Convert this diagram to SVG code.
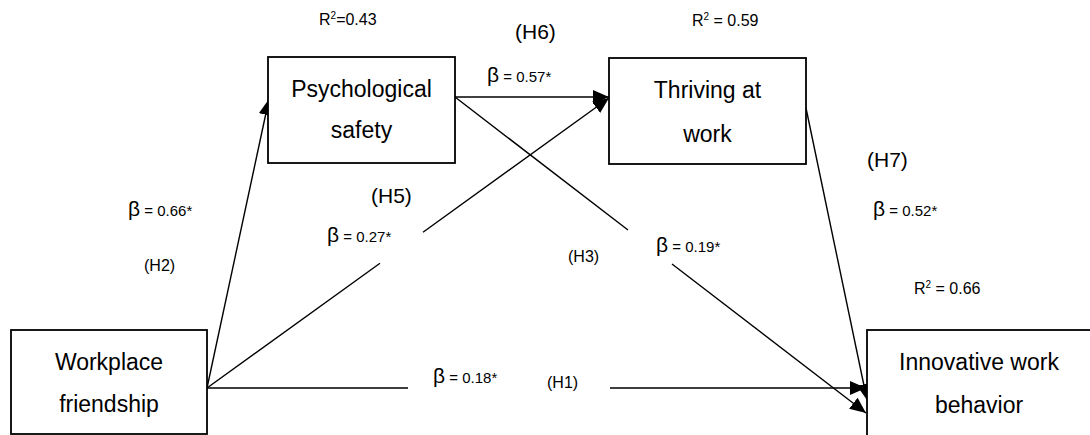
<svg xmlns="http://www.w3.org/2000/svg" width="1090" height="435" viewBox="0 0 1090 435">
<style>
text{font-family:"Liberation Sans",Arial,sans-serif;fill:#000}
.box{fill:#fff;stroke:#000;stroke-width:1.8}
.node{font-size:23px;text-anchor:middle}
.conn{fill:none;stroke:#000;stroke-width:1.4}
.b{font-size:21px}
.v{font-size:15px}
.h{font-size:21px}
.hs{font-size:16px}
.r{font-size:16px}
.sup{font-size:10px}
</style>
<defs>
<marker id="ah" markerUnits="userSpaceOnUse" markerWidth="17" markerHeight="15" refX="16" refY="7" orient="auto">
<path d="M0,0 L16,7 L0,14 z" fill="#000"/>
</marker>
</defs>
<rect width="1090" height="435" fill="#fff"/>
<g id="connectors">
<path class="conn" d="M207,388 L269,99" marker-end="url(#ah)"/>
<path class="conn" d="M207,388 L380,263.2 M423,232.2 L609,98" marker-end="url(#ah)"/>
<path class="conn" d="M455,97 L609,97" marker-end="url(#ah)"/>
<path class="conn" d="M455,97 L628,230 M672,264 L866,413" marker-end="url(#ah)"/>
<path class="conn" d="M806,108 L867,400" marker-end="url(#ah)"/>
<path class="conn" d="M207,388 L408,388 M610,388 L866,388" marker-end="url(#ah)"/>
</g>
<g id="psychological-safety">
<rect class="box" x="268" y="57" width="187" height="106"/>
<text class="node" x="361.5" y="97">Psychological</text>
<text class="node" x="361.5" y="138">safety</text>
</g>
<g id="thriving-at-work">
<rect class="box" x="609" y="58" width="197" height="106"/>
<text class="node" x="707.5" y="98">Thriving at</text>
<text class="node" x="707.5" y="142">work</text>
</g>
<g id="workplace-friendship">
<rect class="box" x="11" y="330" width="196" height="104"/>
<text class="node" x="109" y="370">Workplace</text>
<text class="node" x="109" y="412">friendship</text>
</g>
<g id="innovative-work-behavior">
<rect class="box" x="867" y="330" width="230" height="110"/>
<text class="node" x="979" y="370">Innovative work</text>
<text class="node" x="979" y="413">behavior</text>
</g>
<g id="labels">
<text class="r" x="319" y="25">R<tspan class="sup" dy="-6">2</tspan><tspan dy="6">=0.43</tspan></text>
<text class="r" x="692" y="26">R<tspan class="sup" dy="-6">2</tspan><tspan dy="6"> = 0.59</tspan></text>
<text class="r" x="914" y="294">R<tspan class="sup" dy="-6">2</tspan><tspan dy="6"> = 0.66</tspan></text>
<text class="h" x="515" y="39">(H6)</text>
<text class="h" x="371" y="203">(H5)</text>
<text class="h" x="867" y="167">(H7)</text>
<text class="hs" x="144" y="271">(H2)</text>
<text class="hs" x="568" y="262">(H3)</text>
<text class="hs" x="547" y="388">(H1)</text>
<text x="487" y="82"><tspan class="b">β</tspan><tspan class="v"> = 0.57*</tspan></text>
<text x="128" y="216"><tspan class="b">β</tspan><tspan class="v"> = 0.66*</tspan></text>
<text x="873" y="216"><tspan class="b">β</tspan><tspan class="v"> = 0.52*</tspan></text>
<text x="327" y="242"><tspan class="b">β</tspan><tspan class="v"> = 0.27*</tspan></text>
<text x="656" y="252"><tspan class="b">β</tspan><tspan class="v"> = 0.19*</tspan></text>
<text x="433" y="383"><tspan class="b">β</tspan><tspan class="v"> = 0.18*</tspan></text>
</g>
</svg>
